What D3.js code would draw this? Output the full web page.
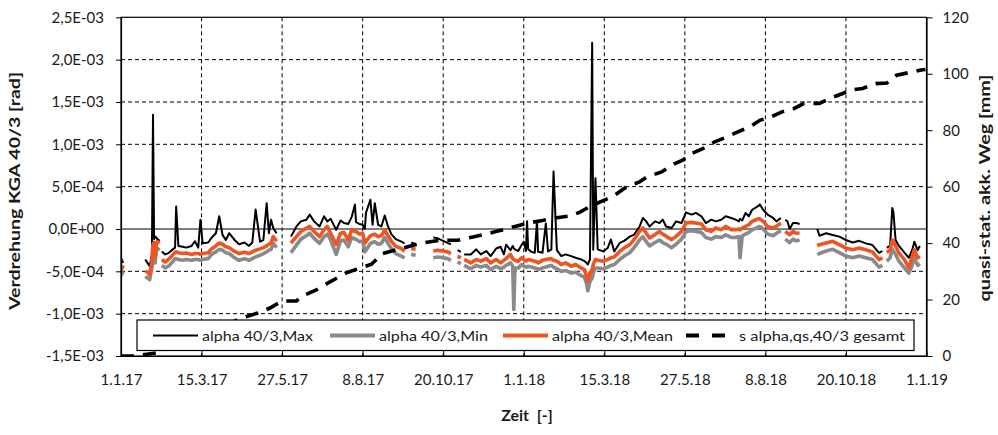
<!DOCTYPE html>
<html><head><meta charset="utf-8">
<script src="https://cdn.jsdelivr.net/npm/d3@7/dist/d3.min.js"></script>
<style>
body{margin:0;background:#fff}
svg{display:block}
text{font-family:Lato,"DejaVu Sans",sans-serif;fill:#1a1a1a}
</style>
</head><body>
<svg id="chart" width="998" height="435"></svg>
<script>
// ---------- axis ticks ----------
const xTickDates = ["2017-01-01","2017-03-15","2017-05-27","2017-08-08","2017-10-20","2018-01-01","2018-03-15","2018-05-27","2018-08-08","2018-10-20","2019-01-01"];
const xTickLabels = ["1.1.17","15.3.17","27.5.17","8.8.17","20.10.17","1.1.18","15.3.18","27.5.18","8.8.18","20.10.18","1.1.19"];
const leftTicks = [-1.5e-3,-1.0e-3,-5e-4,0,5e-4,1.0e-3,1.5e-3,2.0e-3,2.5e-3];
const leftTickLabels = ["-1,5E-03","-1,0E-03","-5,0E-04","0,0E+00","5,0E-04","1,0E-03","1,5E-03","2,0E-03","2,5E-03"];
const rightTicks = [0,20,40,60,80,100,120];

// ---------- series (values in units of 1E-4 rad) ----------
const dates = [
 "2017-01-01","2017-01-03","2017-01-05",
 "2017-01-23","2017-01-25","2017-01-27","2017-01-29","2017-01-30","2017-01-31","2017-02-01","2017-02-02","2017-02-03","2017-02-05","2017-02-06",
 "2017-02-07","2017-02-10","2017-02-13","2017-02-16","2017-02-19","2017-02-20","2017-02-22","2017-02-26","2017-03-01","2017-03-06","2017-03-09","2017-03-12","2017-03-14","2017-03-16","2017-03-21","2017-03-24","2017-03-28","2017-03-31","2017-04-03","2017-04-06","2017-04-09","2017-04-14","2017-04-18","2017-04-23","2017-04-27","2017-04-30","2017-05-03","2017-05-07","2017-05-10","2017-05-13","2017-05-15","2017-05-17","2017-05-19","2017-05-22","2017-05-24",
 "2017-06-04","2017-06-09","2017-06-13","2017-06-18","2017-06-21","2017-06-25","2017-06-30","2017-07-04","2017-07-07","2017-07-10","2017-07-15","2017-07-19","2017-07-22","2017-07-26","2017-07-29","2017-08-01","2017-08-02","2017-08-05","2017-08-08","2017-08-10","2017-08-11","2017-08-15","2017-08-17","2017-08-19","2017-08-22","2017-08-25","2017-08-28","2017-08-31",
 "2017-09-03","2017-09-07","2017-09-12","2017-09-15","2017-09-17","2017-09-21","2017-09-25","2017-09-27","2017-10-11","2017-10-15","2017-10-20","2017-10-24","2017-10-27","2017-10-30","2017-11-02","2017-11-05","2017-11-06","2017-11-08","2017-11-14","2017-11-19","2017-11-23","2017-11-28","2017-12-02","2017-12-07","2017-12-11","2017-12-14","2017-12-16","2017-12-20","2017-12-22","2017-12-23","2017-12-24","2017-12-27","2017-12-30",
 "2018-01-01","2018-01-03","2018-01-04","2018-01-05","2018-01-08","2018-01-11","2018-01-13","2018-01-14","2018-01-18","2018-01-21","2018-01-23","2018-01-26","2018-01-28","2018-01-31",
 "2018-02-04","2018-02-08","2018-02-13","2018-02-17","2018-02-22","2018-02-25","2018-02-27","2018-02-28",
 "2018-03-02","2018-03-04","2018-03-05","2018-03-07","2018-03-09","2018-03-14","2018-03-18","2018-03-21","2018-03-24","2018-03-29",
 "2018-04-02","2018-04-07","2018-04-11","2018-04-16","2018-04-19","2018-04-22","2018-04-25","2018-04-30",
 "2018-05-04","2018-05-07","2018-05-10","2018-05-15","2018-05-19","2018-05-24","2018-05-28",
 "2018-06-02","2018-06-06","2018-06-11","2018-06-15","2018-06-20","2018-06-24","2018-06-29",
 "2018-07-03","2018-07-08","2018-07-12","2018-07-15",
 "2018-07-16","2018-07-18","2018-07-21","2018-07-24","2018-07-27","2018-08-01","2018-08-03","2018-08-06","2018-08-10","2018-08-15","2018-08-18","2018-08-22","2018-08-24","2018-08-26","2018-08-28","2018-08-30","2018-09-02","2018-09-05","2018-09-08","2018-09-10",
 "2018-09-24","2018-09-26","2018-10-02","2018-10-08","2018-10-14","2018-10-20","2018-10-26","2018-11-01","2018-11-07","2018-11-13","2018-11-19","2018-11-22","2018-11-24",
 "2018-11-26","2018-11-29","2018-12-01","2018-12-02","2018-12-04","2018-12-07","2018-12-12","2018-12-16","2018-12-19","2018-12-21","2018-12-24","2018-12-26"
];
const maxE4 = [
 -3.4,-4.0,null,
 -3.6,-4.0,-4.4,-3.0,13.5,-1.2,-0.9,-1.0,-1.2,-1.4,null,
 -2.65,-3.0,-2.85,-2.5,-2.2,2.65,-2.0,-2.1,-2.2,-2.0,-1.45,-2.2,1.1,-1.7,-1.6,-1.05,-0.5,1.5,-0.7,-1.3,-0.5,-1.3,-1.8,-1.6,-2.0,-1.6,2.3,-1.5,-1.3,3.05,-0.5,1.1,0.1,-0.5,null,
 -0.9,0.3,0.9,1.1,1.7,0.9,0.3,1.5,0.9,1.2,-0.1,1.0,0.7,0.6,1.4,2.9,0.8,0.6,0.5,0.0,1.9,3.45,0.5,3.05,0.5,0.3,1.6,0.3,
 -0.6,-1.2,-1.5,-1.7,null,-1.6,-1.8,null,-1.0,-1.1,-1.4,-1.65,-1.8,null,-2.5,-2.7,null,-3.0,-3.0,-2.4,-3.0,-2.6,-3.2,-2.3,-2.1,-3.0,-1.85,-2.5,-2.0,-2.3,-2.4,-2.6,-1.9,
 -1.5,-2.6,0.9,-2.4,-2.7,-2.8,0.9,-2.7,-2.8,0.65,-2.65,-2.45,6.8,-2.5,
 -3.2,-3.0,-3.2,-3.4,-3.6,-3.8,-4.0,-4.2,
 -3.6,22.0,-2.45,6.0,-2.4,-2.65,-2.25,-1.25,-2.65,-1.65,
 -1.4,-0.9,-0.67,0.3,1.3,0.9,0.3,0.9,
 0.7,1.1,0.3,0.12,0.9,0.7,1.96,
 1.7,1.9,1.5,0.7,1.1,0.9,1.1,
 1.5,1.3,1.1,0.9,
 1.2,1.0,1.89,1.5,2.27,2.66,2.9,2.27,1.69,1.3,0.9,1.3,null,1.1,0.9,0.0,0.7,0.7,0.6,null,
 0.0,-0.8,-0.5,-0.7,-0.9,-1.3,-1.6,-1.4,-1.7,-1.9,-2.83,-2.6,null,
 -2.2,-2.0,2.47,2.0,-1.3,-2.0,-2.8,-3.4,-2.5,-1.5,-2.5,-2.0
];
const minE4 = [
 -5.5,-5.0,null,
 -5.6,-5.8,-6.0,-4.6,-3.0,-2.6,-4.0,-2.5,-2.3,-2.5,null,
 -4.3,-4.6,-4.4,-4.0,-3.5,-3.5,-3.6,-3.7,-3.6,-3.7,-3.6,-3.6,-3.7,-3.6,-3.5,-3.0,-2.7,-2.4,-2.5,-2.8,-2.9,-3.4,-3.7,-3.5,-3.7,-3.5,-3.3,-3.1,-2.9,-2.7,-2.5,-2.4,-1.7,-2.2,null,
 -2.8,-1.9,-1.2,-0.8,-0.5,-1.1,-1.7,-0.9,-0.6,-1.3,-3.0,-1.4,-1.3,-2.1,-1.0,-1.2,-1.2,-1.5,-1.4,-2.7,-2.5,-1.7,-1.6,-1.5,-1.8,-1.7,-1.0,-1.7,
 -2.3,-2.9,-3.2,-3.4,null,-3.0,-3.1,null,-3.4,-3.3,-3.4,-3.5,-3.7,null,-3.9,-4.1,null,-4.3,-4.7,-4.3,-4.5,-4.3,-4.8,-4.4,-4.7,-4.5,-4.3,-4.0,-4.4,-9.5,-4.6,-4.6,-4.2,
 -4.4,-4.5,-4.5,-4.4,-4.5,-4.6,-4.7,-4.8,-4.6,-4.5,-4.4,-4.3,-4.5,-4.7,
 -5.0,-4.9,-5.2,-5.1,-5.5,-5.7,-6.5,-7.3,
 -6.2,-5.8,-5.2,-4.6,-4.6,-4.7,-4.5,-4.3,-4.2,-3.6,
 -3.2,-2.8,-2.2,-1.3,-0.9,-1.5,-2.0,-1.6,
 -1.3,-1.6,-1.8,-2.2,-1.8,-1.2,-0.3,
 -0.2,-0.3,-0.4,-1.0,-1.2,-0.9,-1.0,
 -0.7,-1.0,-1.0,-0.9,
 -3.4,-0.8,-0.6,-0.4,-0.1,0.2,0.3,0.0,-0.6,-0.8,-0.5,-0.2,null,-1.2,-1.4,-1.6,-1.2,-1.4,-1.3,null,
 -3.0,-2.9,-2.6,-2.4,-2.8,-3.2,-3.4,-3.2,-3.4,-3.6,-4.5,-4.3,null,
 -3.8,-3.4,-2.4,-2.6,-3.0,-3.8,-4.6,-5.2,-4.3,-3.4,-4.3,-4.1
];
const meanE4 = [
 -4.9,-4.3,null,
 -5.0,-5.1,-5.4,-3.8,-1.8,-1.6,-3.3,-1.8,-1.5,-1.7,null,
 -3.6,-3.9,-3.6,-3.2,-2.75,-2.7,-2.8,-2.9,-2.85,-3.0,-2.9,-2.9,-3.0,-2.9,-2.8,-2.35,-2.0,-1.65,-1.8,-2.1,-2.2,-2.65,-2.9,-2.75,-2.9,-2.7,-2.5,-2.35,-2.2,-2.0,-1.8,-1.65,-0.9,-1.45,null,
 -1.65,-0.9,-0.3,0.1,0.3,-0.3,-0.9,-0.1,0.3,-0.5,-1.85,-0.5,-0.4,-1.3,-0.1,-0.3,-0.3,-0.6,-0.5,-1.65,-1.5,-0.8,-0.7,-0.6,-0.9,-0.8,-0.15,-0.8,
 -1.45,-2.05,-2.3,-2.65,null,-2.3,-2.4,null,-2.6,-2.5,-2.6,-2.7,-2.9,null,-3.2,-3.4,null,-3.6,-4.0,-3.6,-3.8,-3.5,-4.0,-3.6,-4.0,-3.7,-3.5,-3.0,-3.5,-3.6,-3.7,-3.8,-3.4,
 -3.6,-3.8,-3.7,-3.6,-3.7,-3.8,-3.9,-4.0,-3.7,-3.6,-3.55,-3.5,-3.7,-3.8,
 -4.2,-4.0,-4.4,-4.2,-4.6,-4.8,-5.6,-6.2,
 -5.2,-4.8,-4.2,-3.6,-3.7,-3.8,-3.6,-3.4,-3.3,-2.65,
 -2.25,-1.85,-1.26,-0.28,0.12,-0.5,-1.06,-0.67,
 -0.28,-0.6,-0.87,-1.26,-0.87,-0.28,0.7,
 0.78,0.7,0.6,-0.08,-0.28,0.12,-0.08,
 0.31,-0.08,-0.08,0.0,
 -0.1,0.1,0.31,0.5,0.9,1.18,1.2,0.9,0.3,0.12,0.31,0.7,null,-0.28,-0.5,-0.67,-0.28,-0.5,-0.47,null,
 -2.0,-1.85,-1.65,-1.46,-1.85,-2.25,-2.45,-2.25,-2.45,-2.7,-3.62,-3.4,null,
 -2.8,-2.5,-1.3,-1.5,-2.0,-2.83,-3.62,-4.6,-3.3,-2.45,-3.4,-3.2
];

// cumulative quasi-static path (right axis, mm)
const cumDates = ["2017-01-01","2017-01-12","2017-02-02","2017-04-23","2017-05-05","2017-05-16","2017-05-27","2017-06-09","2017-06-14","2017-06-27","2017-07-09","2017-07-25","2017-08-16","2017-08-26","2017-09-13","2017-09-30","2017-10-17","2017-11-02","2017-11-15","2017-12-05","2017-12-25",
 "2018-01-06","2018-01-18","2018-01-31","2018-02-12","2018-02-21","2018-03-04","2018-03-13","2018-03-23","2018-04-04","2018-04-16","2018-04-23","2018-05-06","2018-05-15","2018-05-25","2018-06-03","2018-06-16","2018-06-23","2018-07-04","2018-07-14","2018-07-25","2018-08-03","2018-08-14","2018-08-23","2018-09-03","2018-09-12","2018-09-26","2018-10-05","2018-10-17","2018-10-23","2018-11-04","2018-11-16","2018-11-26","2018-12-05","2018-12-16","2018-12-27","2018-12-31"];
const cumVals = [0,0,1.1,13.8,15.2,17.0,19.5,19.5,21.2,23.4,26.2,29.6,32.5,36.3,38.2,40.0,41.0,41.0,42.1,43.9,46.0,
 47.2,48.0,49.0,49.6,51.0,53.4,54.9,56.6,59.9,61.7,63.5,65.2,67.6,69.4,71.9,74.1,75.9,77.6,79.4,81.2,83.5,84.9,86.5,87.7,89.5,89.5,91.2,93.0,94.2,94.8,96.5,96.7,99.5,100.4,101.3,101.5];

const legendLabels = ["alpha 40/3,Max","alpha 40/3,Min","alpha 40/3,Mean","s alpha,qs,40/3 gesamt"];

// ---------- drawing ----------
const UNIT = 1e-4;
const parse = d3.utcParse("%Y-%m-%d");
const P = {l:121, r:926.5, t:17.3, b:356};
const svg = d3.select("#chart");

const x = d3.scaleUtc().domain([parse("2017-01-01"), parse("2019-01-01")]).range([P.l, P.r]);
const y = d3.scaleLinear().domain([-1.5e-3, 2.5e-3]).range([P.b, P.t]);
const y2 = d3.scaleLinear().domain([0, 120]).range([P.b, P.t]);

const mk = arr => dates.map((d,i) => ({t: parse(d), v: arr[i] == null ? null : arr[i]*UNIT}));
const sMax = mk(maxE4), sMin = mk(minE4), sMean = mk(meanE4);
const sCum = cumDates.map((d,i) => ({t: parse(d), v: cumVals[i]}));

svg.append("defs").append("clipPath").attr("id","clip")
  .append("rect").attr("x",P.l).attr("y",P.t).attr("width",P.r-P.l).attr("height",P.b-P.t);

// gridlines
const grid = svg.append("g");
grid.selectAll("line.h").data(leftTicks.filter(v => v !== 0 && v > -1.5e-3 && v < 2.5e-3)).join("line")
  .attr("x1",P.l).attr("x2",P.r).attr("y1",d=>y(d)).attr("y2",d=>y(d))
  .attr("stroke","#000").attr("stroke-width",1).attr("stroke-dasharray","4,3");
grid.selectAll("line.v").data(xTickDates.slice(1,-1)).join("line")
  .attr("x1",d=>x(parse(d))).attr("x2",d=>x(parse(d))).attr("y1",P.t).attr("y2",P.b)
  .attr("stroke","#000").attr("stroke-width",1).attr("stroke-dasharray","4,3");
grid.append("line").attr("x1",P.l).attr("x2",P.r).attr("y1",y(0)).attr("y2",y(0))
  .attr("stroke","#000").attr("stroke-width",1.2);

// series
const line = d3.line().defined(d => d.v != null).x(d => x(d.t)).y(d => y(d.v));
const line2 = d3.line().x(d => x(d.t)).y(d => y2(d.v));
const g = svg.append("g").attr("clip-path","url(#clip)");
g.append("path").datum(sMax).attr("d",line).attr("fill","none").attr("stroke","#000").attr("stroke-width",2).attr("stroke-linejoin","round");
g.append("path").datum(sMin).attr("d",line).attr("fill","none").attr("stroke","#8a8a8a").attr("stroke-width",3.6).attr("stroke-linejoin","round");
g.append("path").datum(sMean).attr("d",line).attr("fill","none").attr("stroke","#ee5522").attr("stroke-width",3.6).attr("stroke-linejoin","round");
g.append("path").datum(sCum).attr("d",line2).attr("fill","none").attr("stroke","#000").attr("stroke-width",3.6).attr("stroke-dasharray","13,9");

// plot border
svg.append("rect").attr("x",P.l).attr("y",P.t).attr("width",P.r-P.l).attr("height",P.b-P.t)
  .attr("fill","none").attr("stroke","#000").attr("stroke-width",1.2);

// axes
const axL = svg.append("g").attr("transform",`translate(${P.l},0)`)
  .call(d3.axisLeft(y).tickValues(leftTicks).tickFormat((d,i)=>leftTickLabels[i]).tickSize(5).tickSizeOuter(0).tickPadding(12));
const axR = svg.append("g").attr("transform",`translate(${P.r},0)`)
  .call(d3.axisRight(y2).tickValues(rightTicks).tickFormat(d=>d).tickSize(6).tickSizeOuter(0).tickPadding(10));
const axB = svg.append("g").attr("transform",`translate(0,${P.b})`)
  .call(d3.axisBottom(x).tickValues(xTickDates.map(parse)).tickFormat((d,i)=>xTickLabels[i]).tickSize(-5).tickSizeOuter(0).tickPadding(18));
[axL,axR,axB].forEach(a => {
  a.select(".domain").attr("stroke","#000").attr("stroke-width",1.2);
  a.selectAll(".tick line").attr("stroke","#000");
  a.selectAll("text").attr("font-family","Lato").attr("font-size",15).attr("fill","#1a1a1a");
});

// axis titles
svg.append("text").attr("transform","translate(20,191) rotate(-90)").attr("text-anchor","middle")
  .attr("font-weight","bold").attr("font-size",16).attr("textLength",238).attr("lengthAdjust","spacingAndGlyphs")
  .text("Verdrehung KGA 40/3 [rad]");
svg.append("text").attr("transform","translate(990,188) rotate(-90)").attr("text-anchor","middle")
  .attr("font-weight","bold").attr("font-size",16).attr("textLength",227).attr("lengthAdjust","spacingAndGlyphs")
  .text("quasi-stat. akk. Weg [mm]");
svg.append("text").attr("x",527).attr("y",421).attr("text-anchor","middle")
  .attr("font-weight","bold").attr("font-size",16).attr("xml:space","preserve")
  .text("Zeit  [-]");

// legend
const lg = svg.append("g");
lg.append("rect").attr("x",137).attr("y",320).attr("width",777).attr("height",30.5)
  .attr("fill","#fff").attr("stroke","#000").attr("stroke-width",1.2);
const items = [
  {x1:153, x2:198, tx:202, len:111, stroke:"#000", w:2, dash:null},
  {x1:330, x2:375, tx:379, len:109, stroke:"#8a8a8a", w:4, dash:null},
  {x1:503, x2:548, tx:552, len:121, stroke:"#ee5522", w:4, dash:null},
  {x1:686, x2:726, tx:739, len:166, stroke:"#000", w:4, dash:"13,13"}
];
items.forEach((it,i) => {
  lg.append("line").attr("x1",it.x1).attr("x2",it.x2).attr("y1",335.5).attr("y2",335.5)
    .attr("stroke",it.stroke).attr("stroke-width",it.w).attr("stroke-dasharray",it.dash);
  lg.append("text").attr("x",it.tx).attr("y",340.5).attr("font-size",13.5)
    .attr("textLength",it.len).attr("lengthAdjust","spacingAndGlyphs").text(legendLabels[i]);
});
</script>
</body></html>
